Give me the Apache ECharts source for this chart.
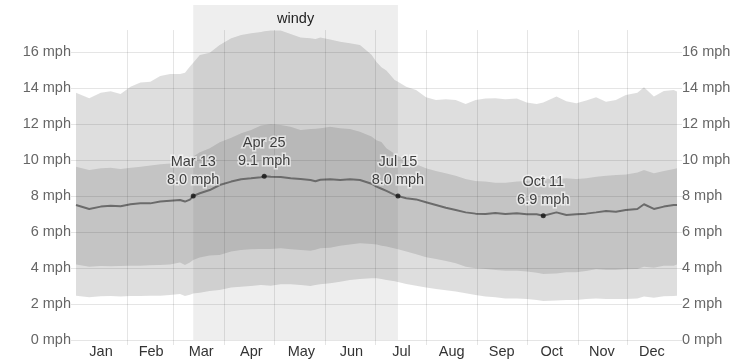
<!DOCTYPE html>
<html><head><meta charset="utf-8">
<script src="https://cdn.jsdelivr.net/npm/echarts@6/dist/echarts.min.js"></script>
<style>html,body{margin:0;padding:0;background:#fff}#c{width:753px;height:362px}</style>
</head><body><div id="c"></div>
<script>
// Day of year (0 = Jan 1)
const days = [0, 8, 15, 21, 27, 33, 39, 45, 51, 57, 63, 66, 69, 71, 75, 81, 87, 94, 100, 106, 112, 114, 118, 124, 130, 136, 142, 145, 148, 154, 160, 166, 172, 179, 182, 185, 188, 193, 195, 200, 206, 212, 218, 224, 230, 236, 242, 248, 254, 260, 267, 273, 279, 283, 291, 297, 303, 309, 315, 321, 327, 333, 340, 344, 350, 356, 362, 364];
// 90th percentile
const p90 = [13.74, 13.43, 13.74, 13.82, 13.67, 14.07, 14.3, 14.35, 14.67, 14.78,
  14.78, 14.85, 15.19, 15.4, 15.83, 15.96, 16.39, 16.76, 16.94, 17.04,
  17.11, 17.15, 17.19, 17.19, 17.0, 16.81, 16.76, 16.72, 16.81, 16.7,
  16.57, 16.48, 16.39, 15.85, 15.45, 15.15, 14.97, 14.45, 14.35, 14.07,
  13.89, 13.48, 13.33, 13.37, 13.33, 13.11, 13.33, 13.41, 13.43, 13.37,
  13.41, 13.19, 13.11, 13.2, 13.52, 13.26, 13.15, 13.3, 13.48, 13.24,
  13.33, 13.61, 13.74, 14.04, 13.52, 13.83, 13.89, 13.8];
// 75th percentile
const p75 = [9.63, 9.44, 9.54, 9.57, 9.5, 9.57, 9.63, 9.69, 9.76, 9.81,
  9.87, 9.95, 10.09, 10.2, 10.43, 10.65, 10.98, 11.24, 11.48, 11.67,
  11.91, 11.95, 11.98, 11.94, 11.85, 11.67, 11.72, 11.74, 11.76, 11.85,
  11.76, 11.72, 11.57, 11.3, 11.1, 11.0, 10.65, 10.35, 10.22, 10.0,
  9.76, 9.54, 9.39, 9.26, 9.13, 8.94, 8.83, 8.8, 8.74, 8.74,
  8.8, 8.83, 8.93, 8.96, 8.94, 8.98, 8.94, 8.98, 9.07, 9.13,
  9.17, 9.2, 9.31, 9.44, 9.26, 9.39, 9.5, 9.54];
// average wind speed
const meanSpeed = [7.5, 7.28, 7.41, 7.46, 7.43, 7.54, 7.59, 7.59, 7.69, 7.74,
  7.78, 7.69, 7.8, 8.0, 8.15, 8.33, 8.61, 8.8, 8.93, 8.98,
  9.04, 9.1, 9.07, 9.06, 8.98, 8.94, 8.89, 8.82, 8.9, 8.93,
  8.89, 8.93, 8.89, 8.68, 8.52, 8.4, 8.28, 8.06, 8.0, 7.87,
  7.81, 7.65, 7.5, 7.35, 7.22, 7.09, 7.02, 7.0, 7.06, 7.0,
  7.04, 6.98, 6.98, 6.9, 7.09, 6.94, 6.98, 7.02, 7.09, 7.17,
  7.13, 7.22, 7.28, 7.54, 7.28, 7.41, 7.5, 7.5];
// 25th percentile
const p25 = [4.2, 4.07, 4.11, 4.09, 4.11, 4.13, 4.13, 4.15, 4.17, 4.2,
  4.3, 4.17, 4.3, 4.45, 4.58, 4.69, 4.72, 4.91, 5.0, 5.04,
  5.06, 5.06, 5.06, 5.09, 5.04, 5.0, 4.96, 5.02, 5.09, 5.13,
  5.24, 5.31, 5.37, 5.33, 5.31, 5.24, 5.19, 5.08, 5.04, 4.91,
  4.76, 4.59, 4.5, 4.39, 4.26, 4.07, 3.98, 3.94, 3.89, 3.85,
  3.85, 3.8, 3.74, 3.66, 3.7, 3.76, 3.76, 3.83, 3.93, 3.89,
  3.89, 3.93, 3.94, 4.07, 4.02, 4.13, 4.13, 4.2];
// 10th percentile
const p10 = [2.46, 2.37, 2.43, 2.44, 2.41, 2.44, 2.44, 2.46, 2.46, 2.5,
  2.56, 2.44, 2.52, 2.58, 2.62, 2.72, 2.78, 2.91, 2.96, 3.0,
  3.06, 3.04, 3.02, 3.09, 3.09, 3.06, 3.0, 3.05, 3.09, 3.15,
  3.24, 3.33, 3.39, 3.43, 3.43, 3.39, 3.33, 3.26, 3.22, 3.11,
  3.02, 2.91, 2.83, 2.76, 2.69, 2.59, 2.5, 2.41, 2.37, 2.31,
  2.31, 2.28, 2.22, 2.16, 2.2, 2.22, 2.22, 2.28, 2.31, 2.28,
  2.28, 2.28, 2.31, 2.41, 2.35, 2.43, 2.44, 2.46];

const months = ['Jan','Feb','Mar','Apr','May','Jun','Jul','Aug','Sep','Oct','Nov','Dec'];
const monthStartDays = [31, 59, 90, 120, 151, 181, 212, 243, 273, 304, 334];
const windyStart = 71, windyEnd = 195, windyName = 'windy';
const annoDays = [71, 114, 195, 283];
const annoNames = ['Mar 13', 'Apr 25', 'Jul 15', 'Oct 11'];
const yTickMin = 0, yTickMax = 16, yTickStep = 2;

// axis extents of the data grid (mph)
const Y_MIN = -0.278, Y_MAX = 18.61, V_TOP = 17.22, X_MAX = 364;

const FONT = "'Liberation Sans', Arial, sans-serif";
const GRID_COLOR = 'rgba(0,0,0,0.1)';

function bandSeries(lo, hi, color) {
  return {
    type: 'custom', xAxisIndex: 0, yAxisIndex: 0, z: 2, silent: true,
    data: days.map((d, i) => [d, lo[i], hi[i]]),
    encode: {x: 0, y: [1, 2]},
    renderItem: function (params, api) {
      if (params.dataIndex !== 0) return;
      const pts = [];
      for (let i = 0; i < days.length; i++) pts.push(api.coord([days[i], hi[i]]));
      for (let i = days.length - 1; i >= 0; i--) pts.push(api.coord([days[i], lo[i]]));
      return {type: 'polygon', shape: {points: pts}, style: {fill: color}};
    }
  };
}

const chart = echarts.init(document.getElementById('c'), null, {renderer: 'canvas'});

chart.setOption({
  animation: false,
  textStyle: {fontFamily: FONT},
  grid: [
    {left: 76, right: 76, top: 5, bottom: 17},
    {left: 76, right: 76, top: 52, bottom: 22}
  ],
  xAxis: [
    {type: 'value', gridIndex: 0, min: 0, max: X_MAX, show: false},
    {type: 'category', gridIndex: 1, data: months, boundaryGap: true,
      axisLine: {show: false}, axisTick: {show: false}, splitLine: {show: false},
      axisLabel: {color: '#333', fontSize: 14.5, margin: 4, fontFamily: FONT}}
  ],
  yAxis: [
    {type: 'value', gridIndex: 0, min: Y_MIN, max: Y_MAX, show: false},
    {type: 'value', gridIndex: 1, position: 'left', min: yTickMin, max: yTickMax, interval: yTickStep, z: 3,
      axisLine: {show: false},
      axisTick: {show: true, length: 5, lineStyle: {color: GRID_COLOR}},
      splitLine: {show: true, lineStyle: {color: GRID_COLOR}},
      axisLabel: {formatter: '{value} mph', color: '#666', fontSize: 14.5, margin: 5, fontFamily: FONT}},
    {type: 'value', gridIndex: 1, position: 'right', min: yTickMin, max: yTickMax, interval: yTickStep, z: 3,
      axisLine: {show: false},
      axisTick: {show: true, length: 5, lineStyle: {color: GRID_COLOR}},
      splitLine: {show: false},
      axisLabel: {formatter: '{value} mph', color: '#666', fontSize: 14.5, margin: 5, fontFamily: FONT}}
  ],
  series: [
    {type: 'line', xAxisIndex: 0, yAxisIndex: 0, data: [], z: 1, silent: true,
      markArea: {silent: true, itemStyle: {color: 'rgba(0,0,0,0.067)'},
        label: {show: true, position: 'insideTop', distance: 6, color: '#222', fontSize: 14.5, fontFamily: FONT},
        data: [[{name: windyName, xAxis: windyStart, yAxis: 0}, {xAxis: windyEnd, yAxis: Y_MAX}]]}},
    bandSeries(p10, p90, 'rgba(0,0,0,0.13)'),
    bandSeries(p25, p75, 'rgba(0,0,0,0.117)'),
    {type: 'line', xAxisIndex: 0, yAxisIndex: 0, data: days.map((d, i) => [d, meanSpeed[i]]),
      showSymbol: false, symbol: 'none',
      lineStyle: {color: '#6b6b6b', width: 2}, z: 3, silent: true},
    {type: 'line', xAxisIndex: 0, yAxisIndex: 0, data: [], z: 4, silent: true,
      markLine: {silent: true, symbol: ['none', 'none'], label: {show: false},
        lineStyle: {color: GRID_COLOR, width: 1, type: 'solid'},
        data: monthStartDays.map(d => [{coord: [d, Y_MIN]}, {coord: [d, V_TOP]}])}},
    {type: 'scatter', xAxisIndex: 0, yAxisIndex: 0, z: 5, silent: true, symbolSize: 5,
      itemStyle: {color: '#111'},
      data: annoDays.map((d, k) => ({name: annoNames[k], value: [d, meanSpeed[days.indexOf(d)]]})),
      label: {show: true, position: 'top', distance: 4, color: '#111', fontSize: 14.5, lineHeight: 18,
        fontFamily: FONT, textBorderColor: 'rgba(255,255,255,0.75)', textBorderWidth: 3, align: 'center',
        formatter: p => p.name + '\n' + p.value[1].toFixed(1) + ' mph'}}
  ]
});
</script></body></html>
